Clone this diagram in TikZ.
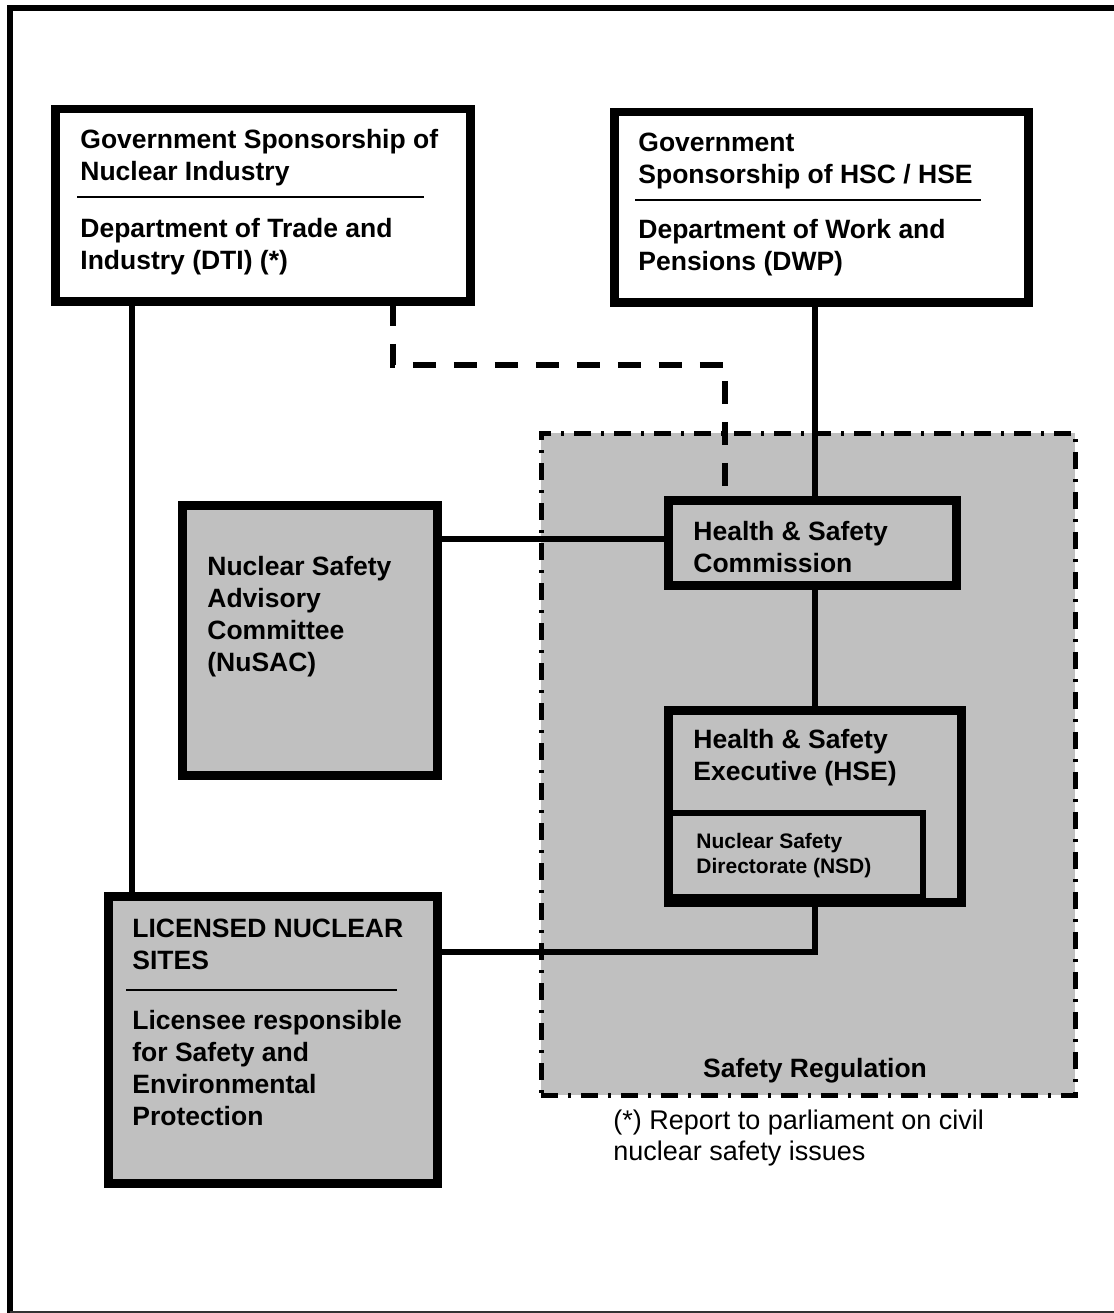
\documentclass[tikz,border=0pt]{standalone}
\usepackage{fontspec}
\setmainfont{Liberation Sans}
\usetikzlibrary{fit}
\definecolor{boxgray}{HTML}{C0C0C0}
\definecolor{framegray}{HTML}{333333}
\begin{document}
\begin{tikzpicture}[x=0.5pt,y=-0.5pt,
  box/.style={draw=black, line width=2.9pt, inner sep=0pt, fit={#1}},
  whitebox/.style={box={#1}, fill=white},
  graybox/.style={box={#1}, fill=boxgray},
  conn/.style={line width=2.8pt},
  dashconn/.style={line width=3pt, dash pattern=on 11.5pt off 9pt},
  sepline/.style={line width=0.8pt},
  lbl/.style={anchor=base west, inner sep=0pt, font=\bfseries\fontsize{13.25pt}{16pt}\selectfont},
  smalllbl/.style={anchor=base west, inner sep=0pt, font=\bfseries\fontsize{10.5pt}{12.5pt}\selectfont},
  notelbl/.style={anchor=base west, inner sep=0pt, font=\fontsize{13.5pt}{15.5pt}\selectfont},
]
\useasboundingbox (0,0) rectangle (1114,1313);
\fill[white] (0,0) rectangle (1114,1313);

% outer frame
\draw[line width=3pt, line join=miter] (9.5,1313) -- (9.5,8) -- (1114,8);
\draw[line width=0.8pt, framegray] (9.5,1312) -- (1114,1312);

% safety regulation region
\node[fit={(541,433) (1075,1095)}, inner sep=0pt, fill=boxgray, draw=black,
      line width=2.5pt, dash pattern=on 8.5pt off 5pt on 1.5pt off 5pt] (reg) {};

% coordinates for bends
\coordinate (dbend) at (725,365);
\coordinate (lbend) at (815,952);

% boxes
\node[whitebox={(57,110.5) (469,300)}] (dti) {};
\node[whitebox={(616,113.5) (1027,301)}] (dwp) {};
\node[graybox={(184,507) (436,774)}] (nus) {};
\node[graybox={(670,502) (955,584)}] (hsc) {};
\node[graybox={(670,712) (960,901)}] (hse) {};
\node[graybox={(673,816) (920,894)}] (nsd) {};
\node[graybox={(110,898) (436,1182)}] (lic) {};

% connectors
\draw[conn] (dti.south -| 132,0) -- (lic.north -| 132,0);
\draw[dashconn] (dti.south -| 393,0) |- (dbend) -- (hsc.north -| dbend);
\draw[conn] (dwp.south -| 815,0) -- (hsc.north -| 815,0);
\draw[conn] (nus.east |- 0,539) -- (hsc.west |- 0,539);
\draw[conn] (hsc.south -| 815,0) -- (hse.north -| 815,0);
\draw[conn] (hse.south -| lbend) |- (lic.east |- lbend);

% redraw box borders on top of connector ends
\foreach \b in {dti,dwp,nus,hsc,hse,lic}{
  \draw[line width=2.9pt] (\b.north west) rectangle (\b.south east);
}
\draw[line width=2.9pt, fill=boxgray] (nsd.north west) rectangle (nsd.south east);

% separators
\draw[sepline] (77,197) -- (424,197);
\draw[sepline] (635,200) -- (981,200);
\draw[sepline] (126,990) -- (397,990);

% texts
\node[lbl] (dtia) at (80,148) {\vtop{\hbox{Government Sponsorship of}\hbox{Nuclear Industry}}};
\node[lbl] (dtib) at (80,237) {\vtop{\hbox{Department of Trade and}\hbox{Industry (DTI) (*)}}};
\node[lbl] (dwpa) at (638,151) {\vtop{\hbox{Government}\hbox{Sponsorship of HSC / HSE}}};
\node[lbl] (dwpb) at (638,238) {\vtop{\hbox{Department of Work and}\hbox{Pensions (DWP)}}};
\node[lbl] (nust) at (207,575) {\vtop{\hbox{Nuclear Safety}\hbox{Advisory}\hbox{Committee}\hbox{(NuSAC)}}};
\node[lbl] (hsct) at (693,540) {\vtop{\hbox{Health \& Safety}\hbox{Commission}}};
\node[lbl] (hset) at (693,748) {\vtop{\hbox{Health \& Safety}\hbox{Executive (HSE)}}};
\node[smalllbl] (nsdt) at (696,848) {\vtop{\hbox{Nuclear Safety}\hbox{Directorate (NSD)}}};
\node[lbl] (lica) at (132,937) {\vtop{\hbox{LICENSED NUCLEAR}\hbox{SITES}}};
\node[lbl] (licb) at (132,1029) {\vtop{\hbox{Licensee responsible}\hbox{for Safety and}\hbox{Environmental}\hbox{Protection}}};
\node[anchor=base, inner sep=0pt, font=\bfseries\fontsize{13.25pt}{16pt}\selectfont] (regt) at (815,1077) {Safety Regulation};
\node[notelbl] (note) at (613,1129) {\vtop{\hbox{(*) Report to parliament on civil}\hbox{nuclear safety issues}}};
\end{tikzpicture}
\end{document}
